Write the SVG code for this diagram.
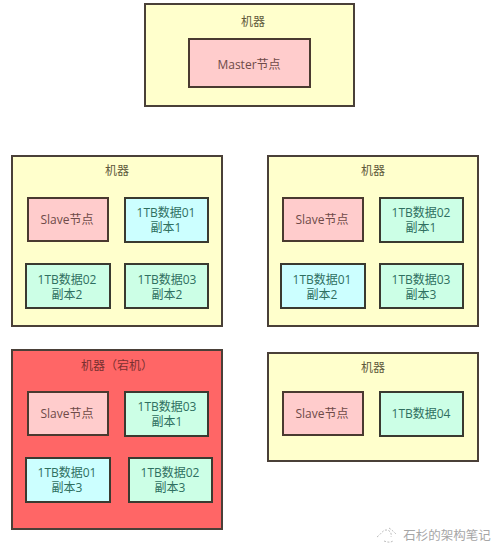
<svg xmlns="http://www.w3.org/2000/svg" width="500" height="554" viewBox="0 0 500 554">
<style>
text{font-family:"Open Sans","Noto Sans CJK SC",sans-serif;font-size:12px;fill:#5f5a3c;text-anchor:middle}
.m{fill:#ffffcc;stroke:#4a4038;stroke-width:2}
.d{fill:#ff6666;stroke:#4a4038;stroke-width:2}
.s{fill:#ffcccc;stroke:#4a3a30;stroke-width:2}
.g{fill:#ccffe6;stroke:#3a3a30;stroke-width:2}
.b{fill:#ccffff;stroke:#3a3a30;stroke-width:2}
text.p{fill:#6e4a48}
text.t{fill:#2f6f5f}
text.r{fill:#7a3030;font-family:"Open Sans","Noto Sans CJK TC",sans-serif}
text.w{fill:#a6a6a6;font-size:12.5px}
.i{fill:none;stroke:#bdbdbd;stroke-width:1;stroke-dasharray:2 1.5}
</style>
<rect width="500" height="554" fill="#fff"/>
<g id="machine-master"><rect class="m" x="145" y="4" width="209" height="102"/><text x="253" y="26">机器</text></g>
<g id="master"><rect class="s" x="189" y="39" width="121" height="48"/><text class="p" x="249" y="69">Master节点</text></g>
<g id="machine-1"><rect class="m" x="12" y="156" width="210" height="170"/><text x="117" y="175">机器</text></g>
<g id="slave-1"><rect class="s" x="28" y="198" width="80" height="43"/><text class="p" x="67" y="224">Slave节点</text></g>
<g id="d1-1"><rect class="b" x="125" y="198" width="83" height="44"/><text class="t" x="166" y="217">1TB数据01</text><text class="t" x="166" y="232">副本1</text></g>
<g id="d2-2"><rect class="g" x="26" y="264" width="84" height="44"/><text class="t" x="67" y="284">1TB数据02</text><text class="t" x="67" y="299">副本2</text></g>
<g id="d3-2"><rect class="g" x="125" y="264" width="83" height="44"/><text class="t" x="167" y="284">1TB数据03</text><text class="t" x="167" y="299">副本2</text></g>
<g id="machine-2"><rect class="m" x="268" y="156" width="210" height="170"/><text x="373" y="175">机器</text></g>
<g id="slave-2"><rect class="s" x="283" y="198" width="80" height="43"/><text class="p" x="322" y="224">Slave节点</text></g>
<g id="d2-1"><rect class="g" x="380" y="198" width="83" height="44"/><text class="t" x="421" y="217">1TB数据02</text><text class="t" x="421" y="232">副本1</text></g>
<g id="d1-2"><rect class="b" x="281" y="264" width="84" height="44"/><text class="t" x="322" y="284">1TB数据01</text><text class="t" x="322" y="299">副本2</text></g>
<g id="d3-3"><rect class="g" x="380" y="264" width="83" height="44"/><text class="t" x="421" y="284">1TB数据03</text><text class="t" x="421" y="299">副本3</text></g>
<g id="machine-3"><rect class="d" x="12" y="350" width="210" height="179"/><text class="r" x="117" y="370">机器（宕机）</text></g>
<g id="slave-3"><rect class="s" x="28" y="392" width="80" height="43"/><text class="p" x="67" y="418">Slave节点</text></g>
<g id="d3-1"><rect class="g" x="125" y="392" width="83" height="44"/><text class="t" x="167" y="411">1TB数据03</text><text class="t" x="167" y="426">副本1</text></g>
<g id="d1-3"><rect class="b" x="26" y="458" width="84" height="44"/><text class="t" x="67" y="477">1TB数据01</text><text class="t" x="67" y="492">副本3</text></g>
<g id="d2-3"><rect class="g" x="129" y="458" width="83" height="44"/><text class="t" x="170" y="477">1TB数据02</text><text class="t" x="170" y="492">副本3</text></g>
<g id="machine-4"><rect class="m" x="268" y="353" width="210" height="108"/><text x="373" y="372">机器</text></g>
<g id="slave-4"><rect class="s" x="283" y="392" width="80" height="43"/><text class="p" x="322" y="418">Slave节点</text></g>
<g id="d4"><rect class="g" x="380" y="392" width="83" height="44"/><text class="t" x="421" y="418">1TB数据04</text></g>
<g id="watermark"><path class="i" d="M377 537C381 534 383 530 386 530C390 530 392 533 391 537M384 541C387 542 390 543 393 541M389 528C392 530 394 532 396 534"/><text class="w" x="447" y="540">石杉的架构笔记</text></g>
</svg>
